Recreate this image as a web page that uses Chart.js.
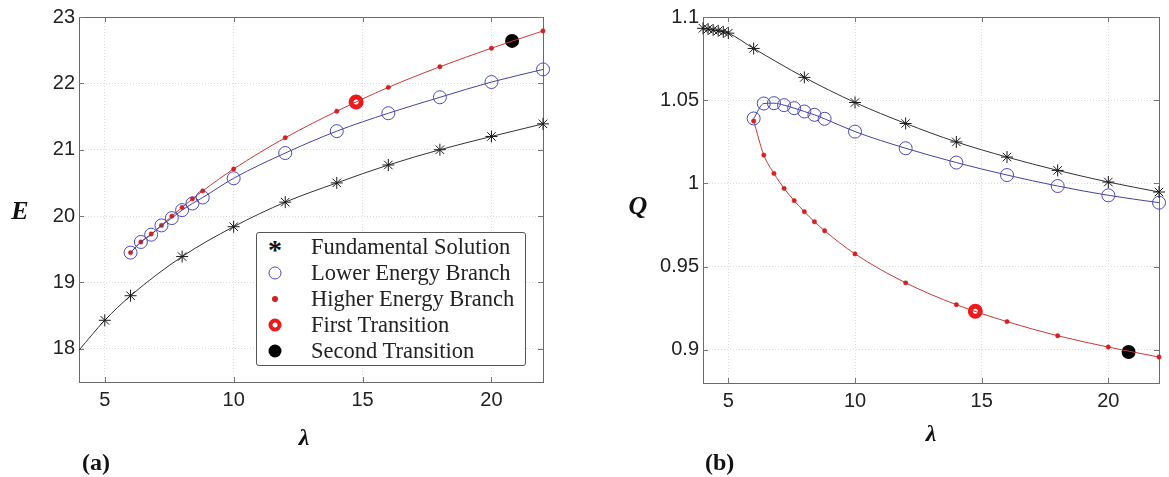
<!DOCTYPE html>
<html><head><meta charset="utf-8">
<script src="https://cdn.jsdelivr.net/npm/chart.js@4.4.1/dist/chart.umd.min.js"></script>
<style>
html,body{margin:0;padding:0;background:#fff;width:1169px;height:477px;overflow:hidden;position:relative;}
canvas{position:absolute;top:0;}
.lbl{position:absolute;font-family:"Liberation Serif","Times New Roman",serif;font-weight:bold;font-style:italic;transform:translate(-50%,-50%);line-height:1;color:#111;white-space:nowrap;}
.tag{position:absolute;font-family:"Liberation Serif","Times New Roman",serif;font-weight:bold;font-size:24px;line-height:1;color:#111;transform:translate(0,-50%);}
#legend{position:absolute;left:256px;top:232px;width:270px;height:134px;border:1px solid #555;border-radius:3px;background:#fff;box-sizing:border-box;}
.row{position:absolute;left:0;height:26px;width:100%;}
.row .txt{position:absolute;left:54px;top:50%;transform:translateY(-50%);font-family:"Liberation Serif","Times New Roman",serif;font-size:22.5px;line-height:1;color:#222;white-space:nowrap;}
.row .mk{position:absolute;left:18px;top:50%;transform:translate(-50%,-50%);box-sizing:border-box;border-radius:50%;}
</style></head>
<body>
<canvas id="ca" width="585" height="477" style="left:0"></canvas>
<canvas id="cb" width="584" height="477" style="left:585px"></canvas>

<div class="lbl" style="left:20px;top:211px;font-size:26px;">E</div>
<div class="lbl" style="left:304px;top:437px;font-size:24px;">λ</div>
<div class="lbl" style="left:638px;top:206px;font-size:26px;">Q</div>
<div class="lbl" style="left:931px;top:433px;font-size:24px;">λ</div>
<div class="tag" style="left:82px;top:462px;">(a)</div>
<div class="tag" style="left:705px;top:462px;">(b)</div>

<div id="legend">
  <div class="row" style="top:1px"><span class="mk" style="width:auto;height:auto;border-radius:0;font-family:'Liberation Serif',serif;font-weight:bold;font-size:28px;line-height:1;top:62%;color:#111">*</span><span class="txt">Fundamental Solution</span></div>
  <div class="row" style="top:27px"><span class="mk" style="width:13px;height:13px;border:1px solid #4a4ac0"></span><span class="txt">Lower Energy Branch</span></div>
  <div class="row" style="top:53px"><span class="mk" style="width:6px;height:6px;background:#d42020"></span><span class="txt">Higher Energy Branch</span></div>
  <div class="row" style="top:79px"><span class="mk" style="width:13px;height:13px;border:4.5px solid #f01818;background:#fff"></span><span class="txt">First Transition</span></div>
  <div class="row" style="top:105px"><span class="mk" style="width:13px;height:13px;background:#000"></span><span class="txt">Second Transition</span></div>
</div>

<script>
// ---- tick labels ----
const lambdaTicks = [5, 10, 15, 20];
const eTicks = [18, 19, 20, 21, 22, 23];
const qTicks = [0.9, 0.95, 1, 1.05, 1.1];

// ---- panel (a): energy E vs lambda ----
const fundLambdaA = [4, 5, 6, 8, 10, 12, 14, 16, 18, 20, 22];
const fundE = [17.98, 18.43, 18.80, 19.39, 19.84, 20.21, 20.50, 20.77, 21.00, 21.20, 21.39];
const branchLambda = [6, 6.4, 6.8, 7.2, 7.6, 8, 8.4, 8.8, 10, 12, 14, 16, 18, 20, 22];
const lowerE = [19.45, 19.61, 19.72, 19.86, 19.97, 20.09, 20.19, 20.28, 20.57, 20.95, 21.28, 21.55, 21.79, 22.02, 22.21];
const higherE = [19.45, 19.61, 19.73, 19.86, 20.00, 20.13, 20.26, 20.38, 20.71, 21.18, 21.58, 21.94, 22.25, 22.53, 22.79];

// ---- panel (b): Q vs lambda ----
const fundLambdaB = [4, 4.2, 4.4, 4.6, 4.8, 5, 6, 8, 10, 12, 14, 16, 18, 20, 22];
const fundQ = [1.0932, 1.0928, 1.0922, 1.0917, 1.0911, 1.0903, 1.0811, 1.0637, 1.0486, 1.0360, 1.0249, 1.0158, 1.0078, 1.0008, 0.9948];
const lowerQ = [1.0390, 1.0480, 1.0482, 1.0470, 1.0452, 1.0432, 1.0412, 1.0388, 1.0311, 1.0211, 1.0125, 1.0050, 0.9984, 0.9928, 0.9884];
const higherQ = [1.0375, 1.0170, 1.0060, 0.9970, 0.9896, 0.9830, 0.9769, 0.9715, 0.9576, 0.9402, 0.9271, 0.9169, 0.9084, 0.9016, 0.8956];

// ---- transitions ----
const transLambda = [14.75, 20.8];
const transE = [21.72, 22.64];
const transQ = [0.9231, 0.8986];

const pts = (xs, ys) => xs.map((x, i) => ({x: x, y: ys[i]}));

const COL_BLACK = '#333', COL_BLUE = '#4a4ac0', COL_BLUE_LINE = '#44449a', COL_RED = '#d42020', COL_RING = '#f01818';

const framePlugin = {
  id: 'frame',
  beforeDatasetsDraw(chart) {
    const {ctx, chartArea: a, scales} = chart;
    ctx.save();
    ctx.strokeStyle = '#6a6a6a';
    ctx.lineWidth = 1;
    ctx.strokeRect(Math.round(a.left) + 0.5, Math.round(a.top) + 0.5, Math.round(a.right - a.left), Math.round(a.bottom - a.top));
    ctx.strokeStyle = '#777';
    const tl = 5;
    scales.x.ticks.forEach(t => {
      const px = Math.round(scales.x.getPixelForValue(t.value)) + 0.5;
      ctx.beginPath();
      ctx.moveTo(px, a.bottom); ctx.lineTo(px, a.bottom - tl);
      ctx.moveTo(px, a.top); ctx.lineTo(px, a.top + tl);
      ctx.stroke();
    });
    scales.y.ticks.forEach(t => {
      const py = Math.round(scales.y.getPixelForValue(t.value)) + 0.5;
      ctx.beginPath();
      ctx.moveTo(a.left, py); ctx.lineTo(a.left + tl, py);
      ctx.moveTo(a.right, py); ctx.lineTo(a.right - tl, py);
      ctx.stroke();
    });
    ctx.restore();
  }
};

function makeOptions(yMin, yMax, yTickVals, yWidth, padRight, xHeight) {
  const tickFont = {family: '"Liberation Sans", Arial, sans-serif', size: 20};
  return {
    responsive: false,
    animation: false,
    devicePixelRatio: 1,
    layout: {padding: {top: 17, right: padRight, left: 0, bottom: 0}},
    plugins: {legend: {display: false}, tooltip: {enabled: false}},
    elements: {line: {borderWidth: 1, cubicInterpolationMode: 'monotone'}},
    scales: {
      x: {
        type: 'linear', min: 4, max: 22,
        afterBuildTicks: s => { s.ticks = lambdaTicks.map(v => ({value: v})); },
        afterFit: s => { s.height = xHeight; },
        ticks: {font: tickFont, color: '#222', padding: 6, maxRotation: 0, callback: v => String(v)},
        grid: {color: '#dadada', lineWidth: 1, drawTicks: false},
        border: {display: false, dash: [1, 2]}
      },
      y: {
        type: 'linear', min: yMin, max: yMax,
        afterBuildTicks: s => { s.ticks = yTickVals.map(v => ({value: v})); },
        afterFit: s => { s.width = yWidth; },
        ticks: {font: tickFont, color: '#222', padding: 4, callback: v => String(v)},
        grid: {color: '#dadada', lineWidth: 1, drawTicks: false},
        border: {display: false, dash: [1, 2]}
      }
    }
  };
}

function datasets(fx, fy, fundRadius, ly, hy, ty) {
  return [
    {label: 'Fundamental Solution', data: pts(fx, fy), borderColor: COL_BLACK, backgroundColor: COL_BLACK,
     pointStyle: 'star', pointRadius: fundRadius, pointBorderColor: '#1a1a1a', pointBorderWidth: 1, clip: false},
    {label: 'Lower Energy Branch', data: pts(branchLambda, ly), borderColor: COL_BLUE_LINE, backgroundColor: 'rgba(0,0,0,0)',
     pointStyle: 'circle', pointRadius: 6.5, pointBorderColor: COL_BLUE, pointBorderWidth: 1, clip: false},
    {label: 'Higher Energy Branch', data: pts(branchLambda, hy), borderColor: '#cc3838', backgroundColor: COL_RED,
     pointStyle: 'circle', pointRadius: 2.2, pointBorderColor: COL_RED, pointBackgroundColor: COL_RED, pointBorderWidth: 0.5, clip: false},
    {label: 'First Transition', data: pts(transLambda.slice(0, 1), ty.slice(0, 1)), showLine: false,
     pointStyle: 'circle', pointRadius: 5, pointBorderWidth: 5, pointBorderColor: COL_RING, pointBackgroundColor: '#fff', clip: false},
    {label: 'Second Transition', data: pts(transLambda.slice(1), ty.slice(1)), showLine: false,
     pointStyle: 'circle', pointRadius: 7, pointBorderWidth: 0, pointBorderColor: '#000', pointBackgroundColor: '#000', clip: false}
  ];
}

new Chart(document.getElementById('ca'), {
  type: 'line',
  data: {datasets: datasets(fundLambdaA, fundE, ctx => (fundLambdaA[ctx.dataIndex] < 4.5 ? 0 : 6), lowerE, higherE, transE)},
  options: makeOptions(17.5, 23, eTicks, 79, 42, 95),
  plugins: [framePlugin]
});

new Chart(document.getElementById('cb'), {
  type: 'line',
  data: {datasets: datasets(fundLambdaB, fundQ, 6, lowerQ, higherQ, transQ)},
  options: makeOptions(0.88, 1.1, qTicks, 118, 2, 94),
  plugins: [framePlugin]
});
</script>
</body></html>
